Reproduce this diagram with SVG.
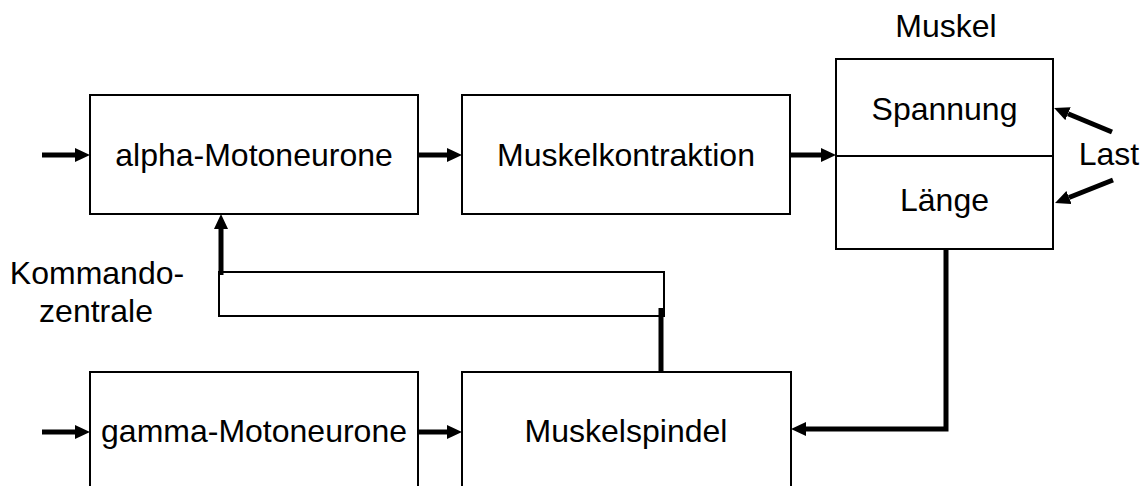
<svg xmlns="http://www.w3.org/2000/svg" width="1142" height="486" viewBox="0 0 1142 486">
  <style>
    .box { fill: #ffffff; stroke: #000000; stroke-width: 2; }
    .lbl { font-family: "Liberation Sans", Arial, sans-serif; font-size: 32px; fill: #000000; text-anchor: middle; }
    .thick { fill: none; stroke: #000000; stroke-width: 5; }
    .thin { fill: none; stroke: #000000; stroke-width: 2; }
  </style>
  <defs>
    <!-- arrowhead starts at the line end and points forward -->
    <marker id="head" viewBox="0 0 15 14" refX="0" refY="7" markerWidth="15" markerHeight="14" markerUnits="userSpaceOnUse" orient="auto">
      <polygon points="0,0 15,7 0,14" fill="#000000"/>
    </marker>
  </defs>

  <rect width="1142" height="486" fill="#ffffff"/>

  <g id="alpha-motoneurone">
    <rect class="box" x="90" y="95" width="328" height="119"/>
    <text class="lbl" x="254" y="166">alpha-Motoneurone</text>
  </g>

  <g id="muskelkontraktion">
    <rect class="box" x="462" y="95" width="328" height="119"/>
    <text class="lbl" x="626" y="166">Muskelkontraktion</text>
  </g>

  <g id="muskel">
    <text class="lbl" x="946" y="37">Muskel</text>
    <rect class="box" x="836" y="59" width="217" height="190"/>
    <line class="thin" x1="836" y1="156" x2="1053" y2="156"/>
    <text class="lbl" x="944.5" y="120">Spannung</text>
    <text class="lbl" x="944.5" y="211">Länge</text>
  </g>

  <g id="last">
    <text class="lbl" x="1109" y="165">Last</text>
  </g>

  <g id="kommandozentrale">
    <text class="lbl" x="97" y="284">Kommando-</text>
    <text class="lbl" x="96" y="322">zentrale</text>
  </g>

  <g id="gamma-motoneurone">
    <rect class="box" x="90" y="372" width="328" height="130"/>
    <text class="lbl" x="254" y="442">gamma-Motoneurone</text>
  </g>

  <g id="muskelspindel">
    <rect class="box" x="462" y="372" width="329" height="130"/>
    <text class="lbl" x="626" y="442">Muskelspindel</text>
  </g>

  <g id="connectors">
    <!-- inputs and forward chain -->
    <line class="thick" x1="42" y1="155" x2="75" y2="155" marker-end="url(#head)"/>
    <line class="thick" x1="418" y1="155" x2="447" y2="155" marker-end="url(#head)"/>
    <line class="thick" x1="790" y1="155" x2="821" y2="155" marker-end="url(#head)"/>
    <line class="thick" x1="42" y1="432" x2="75" y2="432" marker-end="url(#head)"/>
    <line class="thick" x1="418" y1="432" x2="447" y2="432" marker-end="url(#head)"/>

    <!-- load acting on the muscle -->
    <line class="thick" x1="1112" y1="132" x2="1068" y2="113.7" marker-end="url(#head)"/>
    <line class="thick" x1="1113" y1="180" x2="1069" y2="197.5" marker-end="url(#head)"/>

    <!-- length feedback to the spindle -->
    <polyline class="thick" points="946,249 946,429 806,429" marker-end="url(#head)"/>

    <!-- spindle feedback loop to the alpha motoneurons -->
    <line class="thick" x1="661" y1="372" x2="661" y2="308"/>
    <rect class="thin" x="219" y="272" width="445" height="44"/>
    <line class="thick" x1="221" y1="275" x2="221" y2="229" marker-end="url(#head)"/>
  </g>
</svg>
